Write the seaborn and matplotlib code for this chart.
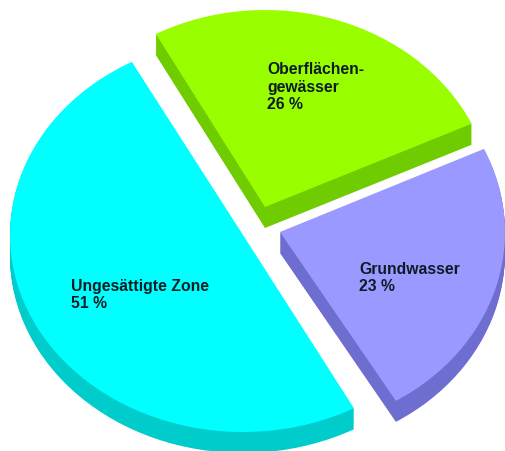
import matplotlib.pyplot as plt
import seaborn as sns

labels = ["Ungesättigte Zone\n51 %", "Grundwasser\n23 %", "Oberflächen-\ngewässer\n26 %"]
shares = [51, 23, 26]
top_colors = ["#00FFFF", "#9999FF", "#99FF00"]
side_colors = ["#00CCCC", "#6E6ED0", "#6FCC00"]

# slice apex and label anchor in picture pixels
apex_px = [(243, 236), (280, 233), (265, 208)]
label_px = [(71, 295), (359, 278), (267, 87)]

# the original is tilted, so each slice sits a little differently on screen
start_angles = [118.5, 301, 25]
sweep_fix = [0.98, 1.014, 1.0]
radius_x = [233, 225, 228]

WIDTH, HEIGHT = 505, 452
RY = 197
DEPTH = 21

sns.set_theme(style="white")
plt.rcParams["font.family"] = ["Liberation Sans", "DejaVu Sans"]

fig = plt.figure(figsize=(WIDTH / 100, HEIGHT / 100), dpi=100, facecolor="white")

for i, share in enumerate(shares):
    ax = fig.add_axes([0, 0, 1, 1])
    rx = radius_x[i]
    cx, cy = apex_px[i][0] / rx, (HEIGHT - apex_px[i][1]) / RY
    size = share / 100 * sweep_fix[i]
    # stack of darker copies gives the thickness
    for step in range(DEPTH, 0, -1):
        ax.pie([size], colors=[side_colors[i]], normalize=False, startangle=start_angles[i],
               center=(cx, cy - step / RY), wedgeprops={"linewidth": 0})
    ax.pie([size], colors=[top_colors[i]], normalize=False, startangle=start_angles[i],
           center=(cx, cy), wedgeprops={"linewidth": 0})
    ax.set_aspect("auto")
    ax.set_xlim(0, WIDTH / rx)
    ax.set_ylim(0, HEIGHT / RY)
    ax.axis("off")

    ax.text(label_px[i][0] / rx, (HEIGHT - label_px[i][1]) / RY, labels[i], ha="left", va="center",
            fontsize=11.3, fontweight="bold", color="#0C1C24", linespacing=1.22)

fig.savefig("out.png", dpi=100)
